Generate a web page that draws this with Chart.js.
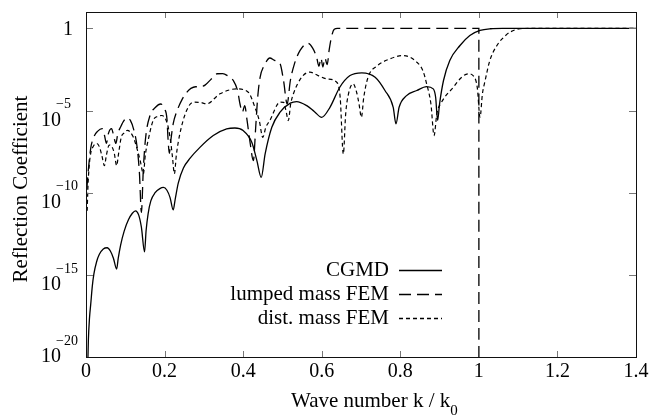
<!DOCTYPE html>
<html>
<head>
<meta charset="utf-8">
<title>Reflection Coefficient</title>
<script src="https://cdn.jsdelivr.net/npm/chart.js@4.4.0/dist/chart.umd.min.js"></script>
<style>
    html, body { margin: 0; padding: 0; background: #fff; }
    #chart { display: block; }
</style>
</head>
<body>
<canvas id="chart" width="654" height="416"></canvas>
<script>
// Wave number k / k0 and log10 of the reflection coefficient
const cgmdK = [0.004, 0.006, 0.009, 0.012, 0.016, 0.020, 0.027, 0.034, 0.044, 0.054, 0.062, 0.070, 0.078, 0.082, 0.088, 0.097, 0.108, 0.118, 0.126, 0.134, 0.141, 0.149, 0.153, 0.158, 0.165, 0.176, 0.188, 0.197, 0.206, 0.214, 0.222, 0.227, 0.235, 0.248, 0.265, 0.290, 0.324, 0.358, 0.379, 0.400, 0.422, 0.435, 0.446, 0.456, 0.473, 0.494, 0.520, 0.536, 0.562, 0.581, 0.600, 0.621, 0.646, 0.672, 0.702, 0.736, 0.761, 0.782, 0.789, 0.797, 0.816, 0.842, 0.867, 0.884, 0.890, 0.895, 0.900, 0.910, 0.926, 0.952, 0.977, 1.003, 1.030, 1.060, 1.400];
const cgmdLog = [-21, -19, -17.6, -16.8, -15.7, -14.95, -14.2, -13.75, -13.42, -13.35, -13.55, -14.0, -14.65, -14.0, -13.2, -12.35, -11.65, -11.25, -11.1, -11.35, -12.1, -13.6, -12.3, -11.3, -10.5, -10.0, -9.75, -9.68, -9.85, -10.3, -11.05, -10.4, -9.4, -8.5, -7.9, -7.24, -6.52, -6.12, -6.06, -6.22, -6.93, -8.05, -9.07, -7.64, -6.02, -5.1, -4.55, -4.45, -4.7, -5.05, -5.41, -4.8, -3.58, -2.87, -2.7, -2.97, -3.78, -4.8, -5.81, -4.8, -4.09, -3.78, -3.54, -3.68, -4.19, -5.6, -4.59, -3.17, -1.95, -1.04, -0.43, -0.12, -0.02, 0, 0];

const lumpedK = [0.002, 0.006, 0.012, 0.020, 0.030, 0.041, 0.047, 0.052, 0.057, 0.065, 0.071, 0.076, 0.081, 0.088, 0.097, 0.105, 0.113, 0.122, 0.130, 0.136, 0.141, 0.146, 0.152, 0.163, 0.177, 0.190, 0.200, 0.206, 0.209, 0.212, 0.216, 0.222, 0.232, 0.245, 0.258, 0.267, 0.279, 0.290, 0.303, 0.318, 0.334, 0.348, 0.360, 0.375, 0.386, 0.392, 0.398, 0.404, 0.410, 0.418, 0.426, 0.432, 0.437, 0.443, 0.455, 0.468, 0.480, 0.494, 0.503, 0.512, 0.520, 0.530, 0.545, 0.565, 0.577, 0.587, 0.593, 0.598, 0.603, 0.608, 0.614, 0.619, 0.625, 0.632, 0.640, 1.000, 1.0001];
const lumpedLog = [-9.8, -8.6, -7.3, -6.6, -6.25, -6.1, -6.5, -7.0, -6.4, -6.1, -6.6, -7.0, -6.4, -6.0, -5.6, -5.45, -5.6, -6.2, -7.2, -8.8, -11.2, -8.5, -6.6, -5.3, -4.8, -4.6, -4.9, -5.5, -6.8, -7.6, -6.8, -5.8, -5.0, -4.3, -3.85, -3.65, -3.55, -3.55, -3.45, -3.1, -2.76, -2.75, -2.87, -3.17, -3.8, -4.6, -5.1, -4.7, -5.6, -7.0, -8.05, -6.0, -4.2, -3.0, -2.2, -1.8, -1.95, -2.15, -3.2, -4.6, -3.2, -2.2, -1.34, -0.9, -1.2, -1.75, -2.3, -1.8, -2.35, -1.8, -2.2, -1.3, -0.5, -0.05, 0, 0, -22];

const distK = [0.003, 0.005, 0.008, 0.012, 0.018, 0.027, 0.034, 0.040, 0.047, 0.052, 0.059, 0.066, 0.072, 0.078, 0.083, 0.090, 0.098, 0.105, 0.120, 0.132, 0.138, 0.146, 0.151, 0.158, 0.171, 0.183, 0.193, 0.207, 0.215, 0.220, 0.225, 0.230, 0.239, 0.256, 0.273, 0.290, 0.307, 0.341, 0.383, 0.413, 0.430, 0.441, 0.450, 0.458, 0.468, 0.494, 0.503, 0.509, 0.515, 0.521, 0.528, 0.549, 0.570, 0.591, 0.613, 0.638, 0.647, 0.655, 0.661, 0.668, 0.680, 0.689, 0.695, 0.701, 0.707, 0.718, 0.740, 0.774, 0.807, 0.842, 0.858, 0.867, 0.878, 0.886, 0.893, 0.905, 0.935, 0.955, 0.973, 0.988, 0.996, 1.003, 1.009, 1.016, 1.028, 1.049, 1.065, 1.079, 1.105, 1.130, 1.400];
const distLog = [-11.1, -9.6, -8.4, -7.6, -7.2, -7.0, -7.2, -7.7, -8.35, -7.7, -7.1, -7.2, -7.6, -8.35, -7.6, -6.6, -6.35, -6.2, -6.6, -7.5, -8.05, -8.85, -7.7, -6.83, -5.6, -5.35, -5.3, -5.8, -6.8, -7.8, -8.85, -7.7, -6.4, -5.0, -4.49, -4.5, -4.59, -3.98, -3.68, -3.88, -4.8, -5.6, -6.63, -6.0, -5.6, -4.49, -4.5, -5.0, -5.61, -4.6, -3.98, -2.97, -2.66, -2.87, -3.07, -3.27, -4.2, -7.64, -5.2, -4.0, -3.37, -3.9, -4.6, -5.41, -4.2, -2.97, -2.3, -1.85, -1.65, -2.05, -2.6, -3.37, -4.6, -6.52, -5.2, -4.49, -3.58, -3.0, -2.76, -2.95, -3.6, -5.41, -4.0, -3.17, -1.95, -0.93, -0.5, -0.23, -0.02, 0, 0];

const xTicks = [0, 0.2, 0.4, 0.6, 0.8, 1, 1.2, 1.4];
const xTickLabels = ['0', '0.2', '0.4', '0.6', '0.8', '1', '1.2', '1.4'];
const yTickExps = [0, -5, -10, -15, -20];

const seriesNames = ['CGMD', 'lumped mass FEM', 'dist. mass FEM'];

const FONT = '"Liberation Serif", "Times New Roman", serif';

function toPoints(ks, logs) {
    return ks.map((k, i) => ({ x: k, y: Math.pow(10, logs[i]) }));
}

const dashes = [[], [12, 6], [4, 3]];

// gnuplot style frame, inward ticks, labels and key
const framePlugin = {
    id: 'frame',
    afterDraw(chart) {
        const ctx = chart.ctx;
        const area = chart.chartArea;
        const xs = chart.scales.x;
        const ys = chart.scales.y;

        ctx.save();
        ctx.strokeStyle = '#777';
        ctx.lineWidth = 1;
        ctx.setLineDash([]);
        ctx.beginPath();
        xTicks.forEach(v => {
            const px = Math.round(xs.getPixelForValue(v)) + 0.5;
            ctx.moveTo(px, area.bottom);
            ctx.lineTo(px, area.bottom - 6);
            ctx.moveTo(px, area.top);
            ctx.lineTo(px, area.top + 6);
        });
        yTickExps.forEach(e => {
            const py = Math.round(ys.getPixelForValue(Math.pow(10, e))) + 0.5;
            ctx.moveTo(area.left, py);
            ctx.lineTo(area.left + 7, py);
            ctx.moveTo(area.right, py);
            ctx.lineTo(area.right - 7, py);
        });
        ctx.stroke();

        ctx.strokeStyle = '#111';
        ctx.strokeRect(area.left + 0.5, area.top + 0.5, area.right - area.left, area.bottom - area.top);

        // x tick labels
        ctx.fillStyle = '#000';
        ctx.font = '20px ' + FONT;
        ctx.textAlign = 'center';
        ctx.textBaseline = 'middle';
        xTicks.forEach((v, i) => {
            ctx.fillText(xTickLabels[i], xs.getPixelForValue(v), 372);
        });

        // y tick labels: 1 and 10 with superscript exponent
        yTickExps.forEach(e => {
            const py = ys.getPixelForValue(Math.pow(10, e));
            if (e === 0) {
                ctx.font = '20px ' + FONT;
                ctx.textAlign = 'right';
                ctx.fillText('1', 73, py + 1);
                return;
            }
            const base = Math.min(py + 10, 357);
            ctx.font = '20px ' + FONT;
            ctx.textAlign = 'left';
            ctx.fillText('10', 41, base);
            ctx.font = '14px ' + FONT;
            ctx.fillText('\u2212' + Math.abs(e), 56, base - 16);
        });

        // axis titles
        ctx.font = '21px ' + FONT;
        ctx.textAlign = 'left';
        ctx.textBaseline = 'alphabetic';
        const xTitle = 'Wave number k / k';
        ctx.fillText(xTitle, 291, 407);
        const w = ctx.measureText(xTitle).width;
        ctx.font = '15px ' + FONT;
        ctx.fillText('0', 291 + w, 415);

        ctx.save();
        ctx.translate(27, 189);
        ctx.rotate(-Math.PI / 2);
        ctx.font = '21px ' + FONT;
        ctx.textAlign = 'center';
        ctx.fillText('Reflection Coefficient', 0, 0);
        ctx.restore();

        // key
        ctx.font = '21px ' + FONT;
        ctx.textAlign = 'right';
        ctx.textBaseline = 'middle';
        ctx.strokeStyle = '#000';
        ctx.lineWidth = 1.3;
        seriesNames.forEach((name, i) => {
            const y = 270 + i * 24;
            ctx.fillText(name, 389, y);
            ctx.setLineDash(dashes[i]);
            ctx.beginPath();
            ctx.moveTo(399, y + 0.5);
            ctx.lineTo(442, y + 0.5);
            ctx.stroke();
        });
        ctx.restore();
    }
};

new Chart(document.getElementById('chart'), {
    type: 'line',
    data: {
        datasets: [
            {
                label: seriesNames[0],
                data: toPoints(cgmdK, cgmdLog),
                borderColor: '#000',
                borderWidth: 1.3,
                borderDash: dashes[0]
            },
            {
                label: seriesNames[1],
                data: toPoints(lumpedK, lumpedLog),
                borderColor: '#000',
                borderWidth: 1.3,
                borderDash: dashes[1]
            },
            {
                label: seriesNames[2],
                data: toPoints(distK, distLog),
                borderColor: '#000',
                borderWidth: 1.2,
                borderDash: dashes[2]
            }
        ]
    },
    options: {
        responsive: false,
        animation: false,
        devicePixelRatio: 1,
        layout: { padding: { left: 86, right: 18, top: 12, bottom: 59 } },
        elements: {
            point: { radius: 0 },
            line: { cubicInterpolationMode: 'monotone', fill: false }
        },
        scales: {
            x: { type: 'linear', min: 0, max: 1.4, display: false },
            y: { type: 'logarithmic', min: 1e-20, max: 10, display: false }
        },
        plugins: {
            legend: { display: false },
            tooltip: { enabled: false }
        }
    },
    plugins: [framePlugin]
});
</script>
</body>
</html>
